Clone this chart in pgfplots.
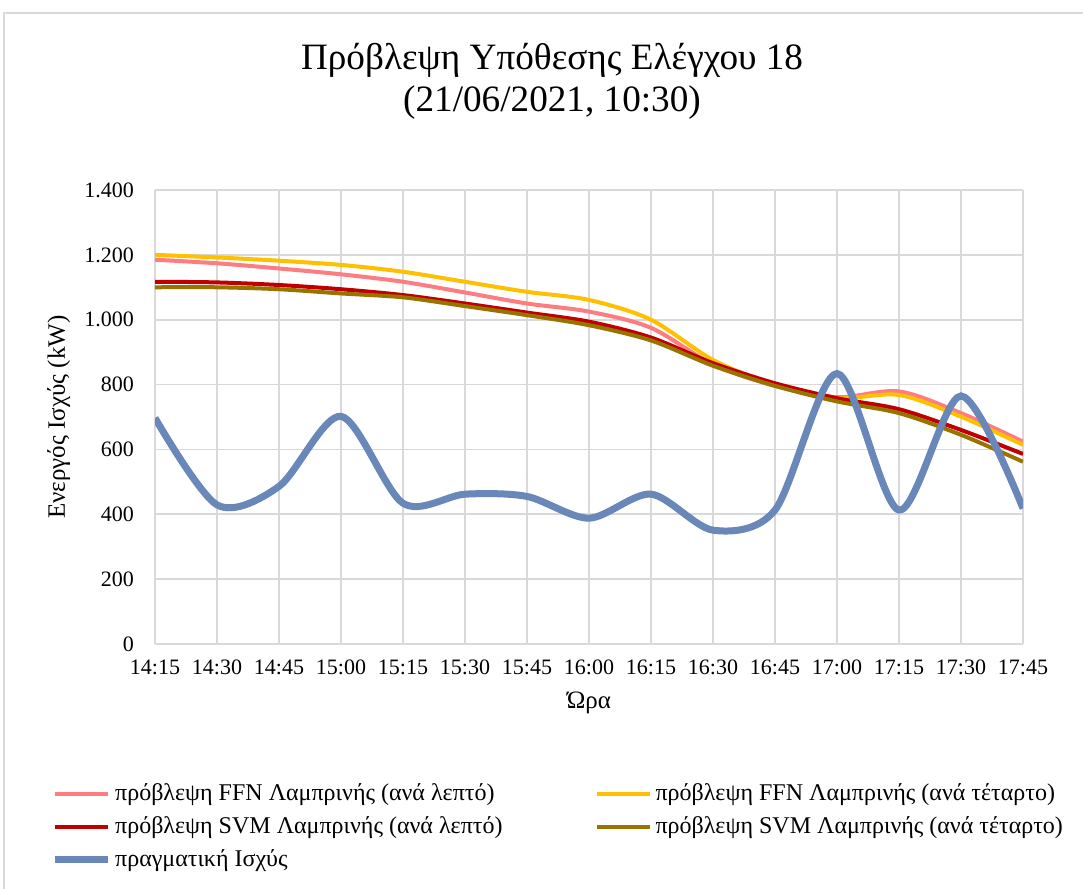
\documentclass[border=0pt]{standalone}
\usepackage{fontspec}
\setmainfont{Liberation Serif}
\usepackage{pgfplots}
\pgfplotsset{compat=1.18}
\definecolor{ffnmin}{RGB}{255,124,128}
\definecolor{ffnq}{RGB}{255,192,0}
\definecolor{svmmin}{RGB}{192,0,0}
\definecolor{svmq}{RGB}{153,115,0}
\definecolor{actual}{RGB}{106,135,185}
\definecolor{gridgray}{RGB}{217,217,217}
\begin{document}
\begin{tikzpicture}
\useasboundingbox (0pt,0pt) rectangle (541.5pt,444.5pt);
\fill[white] (0pt,0pt) rectangle (541.5pt,444.5pt);
\draw[gridgray, line width=1pt] (2pt,-5pt) -- (2pt,438pt) -- (550pt,438pt);
\node[font=\fontsize{18.6}{21}\selectfont, align=center] at (276pt,404pt)
  {Πρόβλεψη Υπόθεσης Ελέγχου 18\\(21/06/2021, 10:30)};
\begin{axis}[
    at={(77.5pt,122.5pt)}, anchor=origin,
    scale only axis, width=434pt, height=227pt,
    xmin=0, xmax=14, ymin=0, ymax=1400,
    xtick={0,...,14},
    xticklabels={14:15,14:30,14:45,15:00,15:15,15:30,15:45,16:00,16:15,16:30,16:45,17:00,17:15,17:30,17:45},
    ytick={0,200,...,1400},
    /pgf/number format/.cd, 1000 sep={.}, assume math mode=true,
    /pgfplots/.cd,
    major tick length=0pt,
    grid=major, grid style={gridgray, line width=0.8pt},
    axis line style={draw=none},
    tick label style={font=\fontsize{11}{13}\selectfont},
    yticklabel style={xshift=-7pt},
    xticklabel style={yshift=-4.5pt},
    xlabel={Ώρα}, ylabel={Ενεργός Ισχύς (kW)},
    label style={font=\fontsize{12.5}{14}\selectfont},
    xlabel style={at={(axis description cs:0.5,-0.129)}, anchor=center},
    ylabel style={at={(axis description cs:-0.111,0.5)}, anchor=center},
    legend columns=2,
    legend style={draw=none, fill=none, at={(axis description cs:-0.127,-0.29)}, anchor=north west,
      font=\fontsize{12}{13}\selectfont, row sep=2.5pt,
      /tikz/every odd column/.append style={column sep=0pt},
      /tikz/column 2/.style={column sep=44pt}},
    legend cell align=left,
    legend image code/.code={\draw[#1] (0pt,0pt) -- (26.5pt,0pt);},
    every axis plot/.append style={smooth, tension=0.5},
]
\addplot[ffnmin, line width=2pt] coordinates {
  (0,1185)(1,1174)(2,1158)(3,1140)(4,1117)(5,1084)(6,1050)(7,1025)
  (8,975)(9,862)(10,796)(11,761)(12,779)(13,712)(14,624)};
\addlegendentry{πρόβλεψη FFN Λαμπρινής (ανά λεπτό)}
\addplot[ffnq, line width=2pt] coordinates {
  (0,1200)(1,1192)(2,1182)(3,1169)(4,1148)(5,1117)(6,1086)(7,1061)
  (8,1000)(9,876)(10,799)(11,758)(12,768)(13,701)(14,614)};
\addlegendentry{πρόβλεψη FFN Λαμπρινής (ανά τέταρτο)}
\addplot[svmmin, line width=2pt] coordinates {
  (0,1117)(1,1115)(2,1107)(3,1094)(4,1076)(5,1050)(6,1022)(7,994)
  (8,945)(9,866)(10,804)(11,758)(12,724)(13,660)(14,586)};
\addlegendentry{πρόβλεψη SVM Λαμπρινής (ανά λεπτό)}
\addplot[svmq, line width=2pt] coordinates {
  (0,1100)(1,1100)(2,1094)(3,1081)(4,1069)(5,1042)(6,1014)(7,983)
  (8,936)(9,858)(10,796)(11,748)(12,712)(13,645)(14,562)};
\addlegendentry{πρόβλεψη SVM Λαμπρινής (ανά τέταρτο)}
\addplot[actual, line width=3.5pt] coordinates {
  (0,697)(1,429)(2,486)(3,702)(4,434)(5,462)(6,455)(7,388)
  (8,462)(9,351)(10,413)(11,834)(12,413)(13,765)(14,418)};
\addlegendentry{πραγματική Ισχύς}
\end{axis}
\end{tikzpicture}
\end{document}
